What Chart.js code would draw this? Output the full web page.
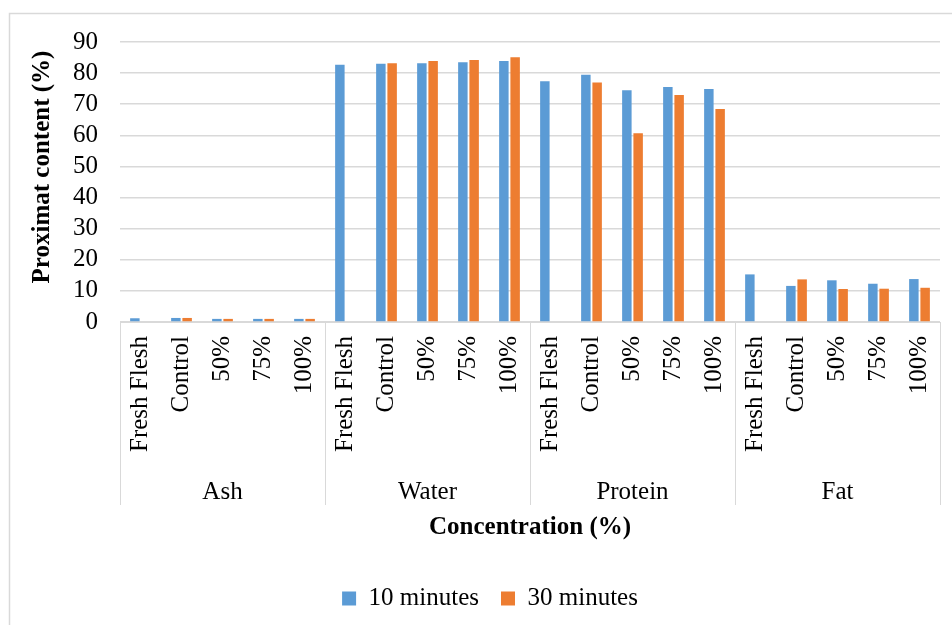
<!DOCTYPE html>
<html>
<head>
<meta charset="utf-8">
<script src="https://cdn.jsdelivr.net/npm/chart.js@4/dist/chart.umd.min.js"></script>
<style>
  html, body { margin: 0; padding: 0; background: #fff; }
  #wrap { width: 952px; height: 625px; position: relative; }
</style>
</head>
<body>
<div id="wrap"><canvas id="c" width="952" height="625"></canvas></div>
<script>
const groups = ['Ash', 'Water', 'Protein', 'Fat'];
const treatments = ['Fresh Flesh', 'Control', '50%', '75%', '100%'];
const categories = groups.flatMap(() => treatments);
const tenMinutes = [1.2, 1.3, 1.0, 1.0, 1.0,
                    82.7, 83.0, 83.2, 83.5, 83.9,
                    77.4, 79.5, 74.5, 75.5, 74.9,
                    15.3, 11.6, 13.4, 12.3, 13.8];
const thirtyMinutes = [null, 1.3, 1.0, 1.0, 1.0,
                       null, 83.2, 83.9, 84.2, 85.1,
                       null, 77.0, 60.7, 73.0, 68.5,
                       null, 13.7, 10.6, 10.7, 11.0];
const seriesNames = ['10 minutes', '30 minutes'];
const yTicks = [0, 10, 20, 30, 40, 50, 60, 70, 80, 90];
const yTitle = 'Proximat content (%)';
const xTitle = 'Concentration (%)';

const FONT = "'Liberation Serif', 'Times New Roman', serif";
const GRID = '#d9d9d9';

const frame = {
  id: 'frame',
  beforeDraw(chart) {
    const ctx = chart.ctx;
    ctx.save();
    ctx.strokeStyle = GRID;
    ctx.lineWidth = 1.5;
    ctx.beginPath();
    ctx.moveTo(9.5, 625);
    ctx.lineTo(9.5, 13.5);
    ctx.lineTo(952, 13.5);
    ctx.stroke();
    ctx.restore();
  }
};

const legendShift = {
  id: 'legendShift',
  afterLayout(chart) {
    if (chart.legend) { chart.legend.left += 20; chart.legend.right += 20; }
  }
};

const yTitlePlugin = {
  id: 'yTitlePlugin',
  afterDraw(chart) {
    const ctx = chart.ctx;
    const area = chart.chartArea;
    ctx.save();
    ctx.translate(43, (area.top + area.bottom) / 2 - 15);
    ctx.rotate(-Math.PI / 2);
    ctx.fillStyle = '#000';
    ctx.font = 'bold 25px ' + FONT;
    ctx.textAlign = 'center';
    ctx.textBaseline = 'middle';
    ctx.fillText(yTitle, 0, 0);
    ctx.restore();
  }
};

const groupLabels = {
  id: 'groupLabels',
  afterDraw(chart) {
    const ctx = chart.ctx;
    const x = chart.scales.x;
    const area = chart.chartArea;
    const per = treatments.length;
    ctx.save();
    ctx.strokeStyle = GRID;
    ctx.lineWidth = 1;
    const half = (x.getPixelForValue(1) - x.getPixelForValue(0)) / 2;
    for (let g = 0; g <= groups.length; g++) {
      let px;
      if (g < groups.length) px = x.getPixelForValue(g * per) - half;
      else px = x.getPixelForValue(g * per - 1) + half;
      px = Math.round(px) + 0.5;
      ctx.beginPath();
      ctx.moveTo(px, area.bottom);
      ctx.lineTo(px, 505);
      ctx.stroke();
    }
    ctx.fillStyle = '#000';
    ctx.font = '25px ' + FONT;
    ctx.textAlign = 'center';
    ctx.textBaseline = 'middle';
    groups.forEach((g, i) => {
      const a = x.getPixelForValue(i * per);
      const b = x.getPixelForValue(i * per + per - 1);
      ctx.fillText(g, (a + b) / 2, 492);
    });
    ctx.restore();
  }
};

new Chart(document.getElementById('c'), {
  type: 'bar',
  data: {
    labels: categories,
    datasets: [
      { label: seriesNames[0], data: tenMinutes, backgroundColor: '#5b9bd5', borderWidth: 0,
        categoryPercentage: 0.55, barPercentage: 0.84 },
      { label: seriesNames[1], data: thirtyMinutes, backgroundColor: '#ed7d31', borderWidth: 0,
        categoryPercentage: 0.55, barPercentage: 0.84 }
    ]
  },
  options: {
    responsive: false,
    animation: false,
    devicePixelRatio: 1,
    layout: { padding: { left: 0, right: 12, top: 42, bottom: 4 } },
    plugins: {
      tooltip: { enabled: false },
      legend: {
        position: 'bottom',
        labels: {
          font: { family: FONT, size: 25 },
          color: '#000',
          boxWidth: 14,
          boxHeight: 14,
          padding: 22
        }
      }
    },
    scales: {
      x: {
        afterFit(scale) { scale.height = 242; scale.paddingRight = 0; scale.paddingLeft = 0; },
        grid: { display: false, drawTicks: false },
        border: { display: true, color: GRID, width: 1 },
        ticks: {
          autoSkip: false,
          maxRotation: 90,
          minRotation: 90,
          padding: 14,
          color: '#000',
          font: { family: FONT, size: 25 }
        },
        title: {
          display: true,
          text: xTitle,
          color: '#000',
          font: { family: FONT, size: 25, weight: 'bold' },
          padding: { top: 0, bottom: 21 }
        }
      },
      y: {
        min: 0,
        max: 90,
        afterFit(scale) { scale.width = 120; },
        afterBuildTicks(scale) { scale.ticks = yTicks.map(v => ({ value: v })); },
        grid: { color: GRID, lineWidth: 1.5, drawTicks: false },
        border: { display: false },
        ticks: {
          autoSkip: false,
          stepSize: 10,
          padding: 22,
          color: '#000',
          font: { family: FONT, size: 25 }
        },
        title: { display: false }
      }
    }
  },
  plugins: [frame, legendShift, yTitlePlugin, groupLabels]
});
</script>
</body>
</html>
